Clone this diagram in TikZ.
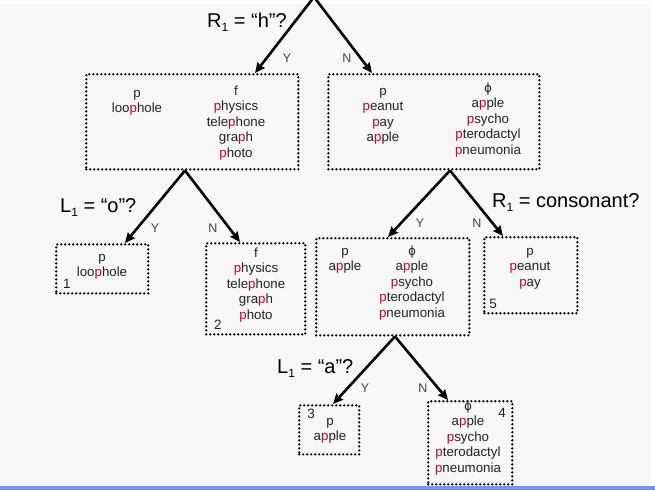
\documentclass[tikz,border=0pt]{standalone}
\usepackage{fontspec}
\setmainfont{Liberation Sans}
\usetikzlibrary{arrows.meta}
\definecolor{bg}{RGB}{247,247,247}
\definecolor{hl}{RGB}{204,0,40}
\definecolor{strip}{RGB}{125,145,230}
\definecolor{txt}{RGB}{35,35,35}
\newcommand{\h}[1]{\textcolor{hl}{#1}}
\newcommand{\sub}[1]{\raisebox{-4pt}{\fontsize{12}{12}\selectfont #1}}
\begin{document}
\begin{tikzpicture}[x=1pt,y=-1pt,
  box/.style={draw=black,line width=2.5pt,dash pattern=on 0pt off 4pt,line cap=round,
    minimum width=#1,inner sep=0pt,anchor=north west},
  words/.style={font=\fontsize{13.3}{15.5}\selectfont,text=txt,align=center,anchor=north,inner sep=0pt},
  num/.style={font=\fontsize{13.5}{15}\selectfont,text=txt,anchor=base,inner sep=0pt},
  yn/.style={font=\fontsize{12.5}{14}\selectfont,text=txt!85,inner sep=0pt},
  q/.style={font=\fontsize{20}{24}\selectfont,anchor=base west,inner sep=0pt},
  arr/.style={line width=2.6pt,-{Stealth[length=10pt,width=9pt,inset=1pt]}}]
\useasboundingbox (0,0) rectangle (655,490);
\fill[white] (0,0) rectangle (655,490);
\fill[bg] (0,4) rectangle (650,486);
\fill[strip] (0,486) rectangle (655,490);
% boxes
\node[box=212pt,minimum height=95pt] (A) at (85,73) {};
\node[box=211pt,minimum height=95pt] (B) at (327,73) {};
\node[box=92pt,minimum height=49pt] (L1) at (55,243) {};
\node[box=99pt,minimum height=91pt] (L2) at (205,242) {};
\node[box=153pt,minimum height=97pt] (M) at (315,237) {};
\node[box=93pt,minimum height=76pt] (L5) at (483,236) {};
\node[box=60pt,minimum height=49pt] (L3) at (298,404) {};
\node[box=84pt,minimum height=83pt] (L4) at (427,400) {};
% apexes
\coordinate (root) at (314,-3);
\coordinate (ta) at ([xshift=100pt]A.south west);
\coordinate (tb) at ([xshift=123pt]B.south west);
\coordinate (tm) at ([xshift=80pt]M.south west);
% connectors
\draw[arr] (root) -- ([xshift=170pt]A.north west);
\draw[arr] (root) -- ([xshift=45pt]B.north west);
\draw[arr] (ta) -- ([xshift=70pt]L1.north west);
\draw[arr] (ta) -- ([xshift=35pt]L2.north west);
\draw[arr] (tb) -- ([xshift=73pt]M.north west);
\draw[arr] (tb) -- ([xshift=20pt]L5.north west);
\draw[arr] (tm) -- ([xshift=35pt]L3.north west);
\draw[arr] (tm) -- ([xshift=21pt]L4.north west);
% Y/N labels
\node[yn] (y0) at (287,58) {Y};
\node[yn] (n0) at (347,58) {N};
\node[yn] (ya) at (155,228) {Y};
\node[yn] (na) at (213,228) {N};
\node[yn] (yb) at (420,223) {Y};
\node[yn] (nb) at (477,223) {N};
\node[yn] (ym) at (365,388) {Y};
\node[yn] (nm) at (423,388) {N};
% questions
\node[q] (q0) at (207,27) {R\sub{1} = “h”?};
\node[q] (qa) at (60,212) {L\sub{1} = “o”?};
\node[q] (qb) at (492,207) {R\sub{1} = consonant?};
\node[q] (qm) at (277,373) {L\sub{1} = “a”?};
% contents
\node[words] (a1) at (137,86) {\strut p\\loo\h{p}hole};
\node[words] (a2) at (236,84) {\strut f\\\h{p}hysics\\tele\h{p}hone\\gra\h{p}h\\\h{p}hoto};
\node[words] (b1) at (383,84) {\strut p\\\h{p}eanut\\\h{p}ay\\a\h{p}ple};
\node[words] (b2) at (488,81) {\strut ϕ\\a\h{p}ple\\\h{p}sycho\\\h{p}terodactyl\\\h{p}neumonia};
\node[words] (c1) at (102,250) {\strut p\\loo\h{p}hole};
\node[words] (c2) at (256,246) {\strut f\\\h{p}hysics\\tele\h{p}hone\\gra\h{p}h\\\h{p}hoto};
\node[words] (m1) at (345,244) {\strut p\\a\h{p}ple};
\node[words] (m2) at (412,244) {\strut ϕ\\a\h{p}ple\\\h{p}sycho\\\h{p}terodactyl\\\h{p}neumonia};
\node[words] (e1) at (530,244) {\strut p\\\h{p}eanut\\\h{p}ay};
\node[words] (d1) at (330,414) {\strut p\\a\h{p}ple};
\node[words] (f1) at (468,399) {\strut ϕ\\a\h{p}ple\\\h{p}sycho\\\h{p}terodactyl\\\h{p}neumonia};
% leaf numbers
\node[num] (n1) at (67,288) {1};
\node[num] (n2) at (218,329) {2};
\node[num] (n5) at (493,308) {5};
\node[num] (n3) at (311,418) {3};
\node[num] (n4) at (502,417) {4};
\end{tikzpicture}
\end{document}
